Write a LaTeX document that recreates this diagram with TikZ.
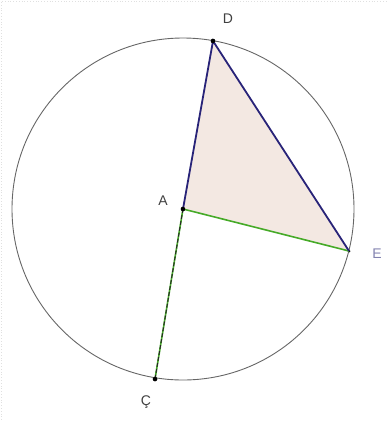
\documentclass[tikz,border=0pt]{standalone}
\usepackage{fontspec}
\setmainfont{Liberation Sans}
\begin{document}
\begin{tikzpicture}[x=1pt,y=-1pt,
  circ/.style={draw=black!60,line width=0.9pt},
  blueseg/.style={draw={rgb,255:red,40;green,35;blue,120},line width=1.8pt},
  greenseg/.style={draw={rgb,255:red,70;green,170;blue,40},line width=1.6pt},
  dashseg/.style={draw=black!85,line width=1pt,dash pattern=on 4pt off 2pt},
  pt/.style={circle,fill=black,inner sep=0pt,minimum size=4.5pt},
  lbl/.style={font=\fontsize{14}{16}\selectfont,text=black!75,inner sep=0pt}]
\useasboundingbox (0,0) rectangle (387,421);
\draw[black!12,dotted,line width=0.8pt] (1,420) -- (1,1) -- (386,1);
\node[pt] (A) at (183,209) {};
\node[pt] (D) at (213,41) {};
\node[pt,minimum size=3pt] (E) at (349,251) {};
\node[pt] (C) at (155,379) {};
\fill[fill={rgb,255:red,243;green,232;blue,226}] (A.center) -- (D.center) -- (E.center) -- cycle;
\draw[circ] (A.center) circle (171);
\draw[greenseg] (A.center) -- (E.center);
\draw[greenseg] (A.center) -- (C.center);
\draw[dashseg] (A.center) -- (C.center);
\draw[blueseg] (A.center) -- (D.center) -- (E.center);
\node[pt] at (A) {};
\node[pt] at (D) {};
\node[pt] at (C) {};
\node[lbl] (lD) at (228,19) {D};
\node[lbl] (lA) at (163,201) {A};
\node[lbl,text={rgb,255:red,130;green,130;blue,175}] (lE) at (377,254) {E};
\node[lbl] (lC) at (146,402) {Ç};
\end{tikzpicture}
\end{document}
